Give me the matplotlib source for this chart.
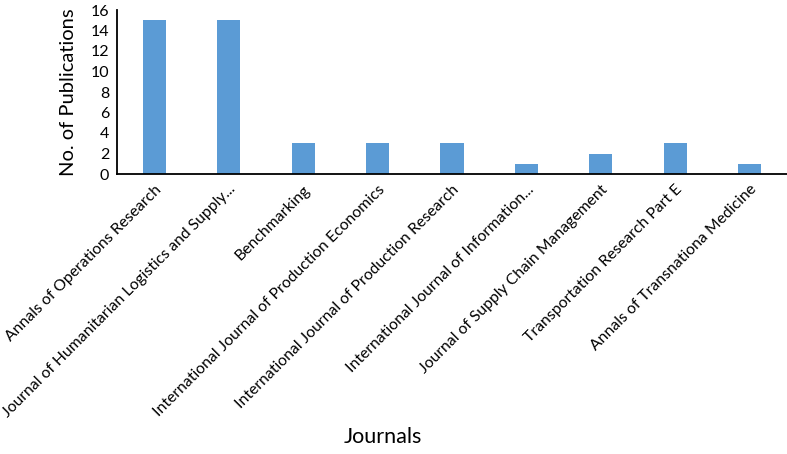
import matplotlib
matplotlib.use("Agg")
import matplotlib.pyplot as plt

journals = [
    "Annals of Operations Research",
    "Journal of Humanitarian Logistics and Supply...",
    "Benchmarking",
    "International Journal of Production Economics",
    "International Journal of Production Research",
    "International Journal of Information...",
    "Journal of Supply Chain Management",
    "Transportation Research Part E",
    "Annals of Transnationa Medicine",
]
publications = [15, 15, 3, 3, 3, 1, 2, 3, 1]
yticks = [0, 2, 4, 6, 8, 10, 12, 14, 16]

plt.rcParams['font.family'] = ['Lato', 'DejaVu Sans']

fig = plt.figure(figsize=(7.87, 4.54), dpi=100)
ax = fig.add_axes([117/787, 1 - 174/454, 670/787, (174 - 10)/454])
x = list(range(len(journals)))
ax.bar(x, publications, width=0.31, color="#5B9BD5")
ax.set_xlim(-0.5, len(journals) - 0.5)
ax.set_ylim(0, 16)
ax.set_yticks(yticks)
ax.set_yticklabels([str(v) for v in yticks], fontsize=11.5)
ax.set_xticks(x)
ax.set_xticklabels(journals, rotation=45, ha="right", rotation_mode="anchor", fontsize=11.3)
ax.tick_params(axis="y", length=0, pad=5.5)
ax.tick_params(axis="x", length=0, pad=6)
for s in ["top", "right"]:
    ax.spines[s].set_visible(False)
ax.spines["left"].set_linewidth(1.3)
ax.spines["bottom"].set_linewidth(1.3)
ax.set_ylabel("No. of Publications", fontsize=14.5, labelpad=10)
fig.text(383/787, 1 - 437/454, "Journals", fontsize=15.5, ha="center", va="center")
fig.savefig("out.png", dpi=100)
